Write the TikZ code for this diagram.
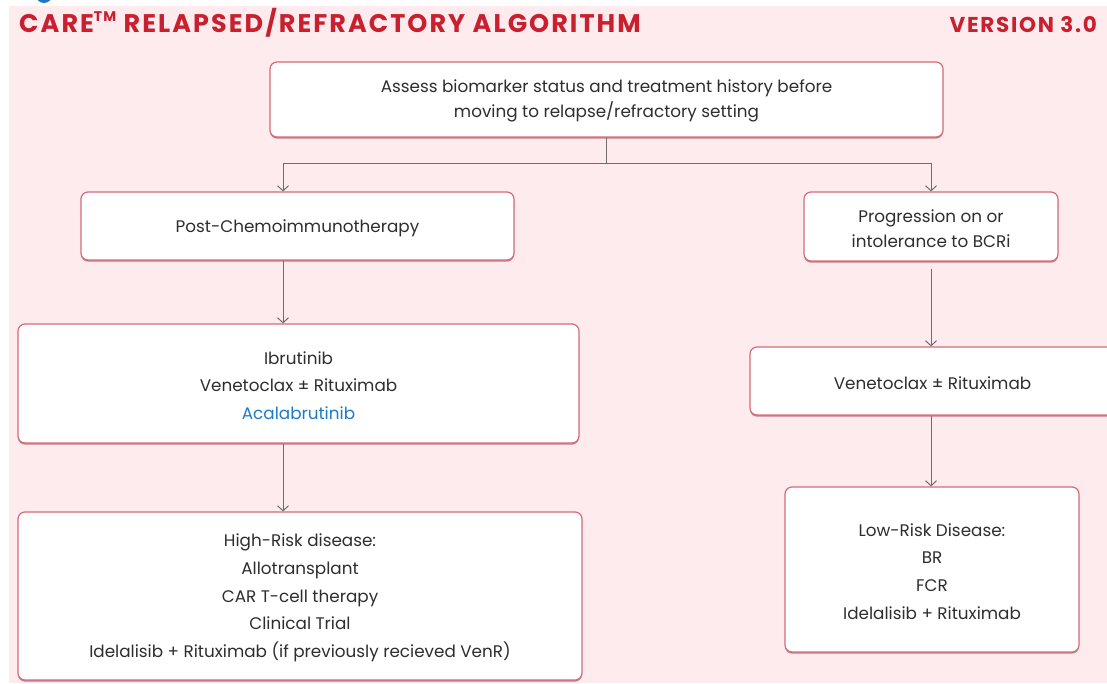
\documentclass[tikz,border=0pt]{standalone}
\usepackage{fontspec}
\setmainfont{Poppins}
\usetikzlibrary{arrows.meta,shadows}
\definecolor{bgpink}{HTML}{FDEBEE}
\definecolor{titlered}{HTML}{C8202F}
\definecolor{boxline}{HTML}{D46A7A}
\definecolor{boxshadow}{HTML}{C27C88}
\definecolor{linkgray}{HTML}{6E6E6E}
\definecolor{bodytext}{HTML}{2E2E2E}
\definecolor{linkblue}{HTML}{1E7BC4}
\definecolor{dotblue}{HTML}{1B75C9}
% taller first line so the text block sits a little lower in its box
\newcommand\toppad{\rule{0pt}{16.5pt}}
\begin{document}
\begin{tikzpicture}[x=1pt,y=-1pt,
  box/.style={draw=boxline, line width=1.2pt, fill=white, rounded corners=7pt,
    inner sep=0pt, align=center, text=bodytext,
    font=\fontsize{16.8}{27.6}\selectfont,
    drop shadow={shadow xshift=0pt, shadow yshift=-1.6pt, fill=boxshadow, opacity=1}},
  link/.style={draw=linkgray, line width=1pt},
  arr/.style={link, -{Straight Barb[length=5pt, width=11pt, line width=1pt]}},
  heading/.style={inner sep=0pt, text=titlered,
    font=\fontsize{#1}{#1}\selectfont\bfseries\addfontfeatures{LetterSpace=8}}]

% page frame and background
\useasboundingbox (0,0) rectangle (1107,683);
\clip (0,0) rectangle (1107,683);
\fill[bgpink] (9,6) rectangle (1107,683);
\fill[dotblue] (44,-5) circle (8);

% headings
\node[heading=25.5, anchor=base west] (title) at (19,32)
  {CARE\raisebox{.42em}{\fontsize{14}{14}\selectfont TM} RELAPSED/REFRACTORY ALGORITHM};
\node[heading=21.5, anchor=base east] (version) at (1097,32) {VERSION 3.0};

% boxes
\node[box, minimum width=673pt, minimum height=75pt] (assess) at (606.5,99.5)
  {\toppad Assess biomarker status and treatment history before\\[-2.6pt]moving to relapse/refractory setting};
\node[box, minimum width=433pt, minimum height=68pt] (pc) at (297.5,226)
  {\toppad Post-Chemoimmunotherapy};
\node[box, minimum width=254pt, minimum height=69pt] (pr) at (931,226.5)
  {\toppad Progression on or\\[-2.6pt]intolerance to BCRi};
\node[box, minimum width=561pt, minimum height=119pt] (ib) at (298.5,383.5)
  {\toppad Ibrutinib\\Venetoclax \textpm{} Rituximab\\\textcolor{linkblue}{Acalabrutinib}};
\node[box, minimum width=365pt, minimum height=68pt] (vr) at (932.5,381)
  {\toppad Venetoclax \textpm{} Rituximab};
\node[box, minimum width=564pt, minimum height=168pt] (hr) at (300,596)
  {\toppad High-Risk disease:\\Allotransplant\\CAR T-cell therapy\\Clinical Trial\\Idelalisib + Rituximab (if previously recieved VenR)};
\node[box, minimum width=294pt, minimum height=165pt] (lr) at (932,569.5)
  {\toppad Low-Risk Disease:\\BR\\FCR\\Idelalisib + Rituximab};

% connectors
\coordinate (split) at (606,163);
\coordinate (lx) at (283,163);
\coordinate (rx) at (931,163);
\draw[link] (assess.south -| split) -- (split);
\draw[link] (lx) -- (rx);
\draw[arr] (lx) -- (pc.north -| lx);
\draw[arr] (rx) -- (pr.north -| rx);
\draw[arr] (pc.south -| lx) -- (ib.north -| lx);
\draw[arr] (ib.south -| lx) -- (hr.north -| lx);
\draw[arr] ([yshift=-7pt]pr.south -| rx) -- (vr.north -| rx);
\draw[arr] (vr.south -| rx) -- (lr.north -| rx);
\end{tikzpicture}
\end{document}
